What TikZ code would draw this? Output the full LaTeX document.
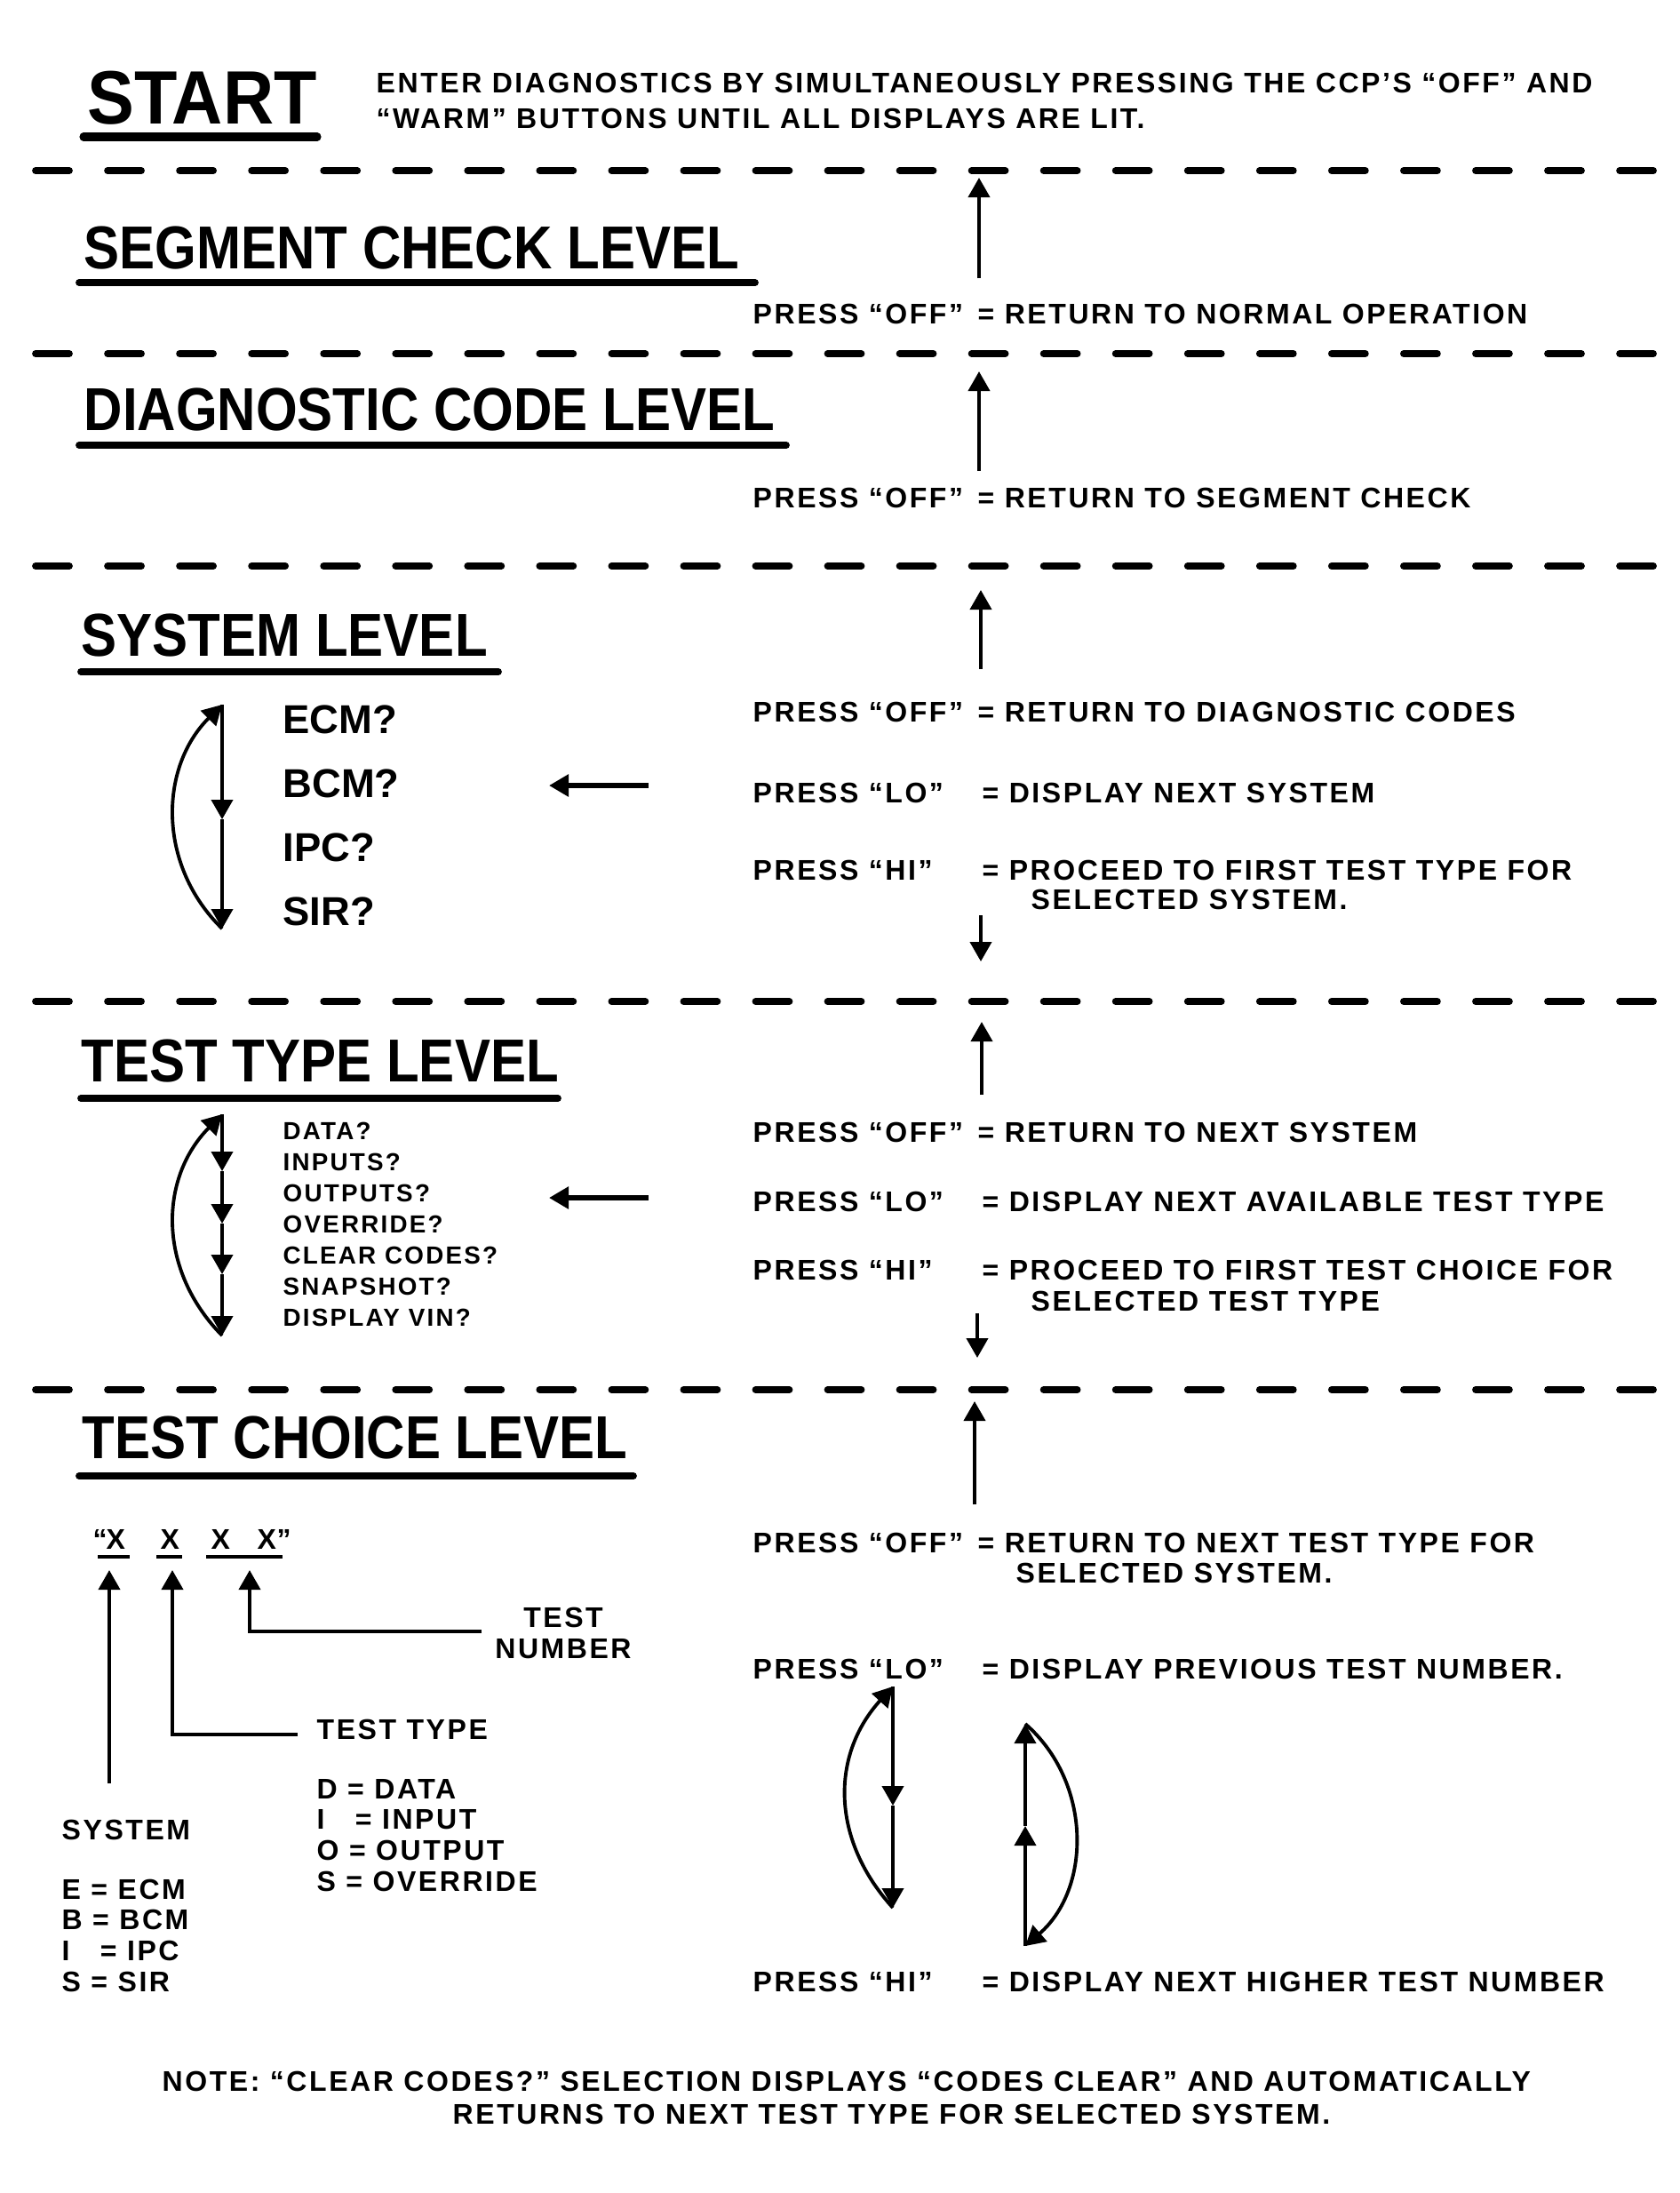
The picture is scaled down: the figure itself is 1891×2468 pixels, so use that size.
\documentclass[tikz,border=0pt]{standalone}
\usepackage{fontspec}
\setmainfont{Liberation Sans}
\newfontfamily\headfont{Liberation Sans Bold}[FakeStretch=0.88]
\newfontfamily\startfont{Liberation Sans Bold}[FakeStretch=0.93]
\newfontfamily\bodyfont{Liberation Sans Bold}[LetterSpace=8]
\newfontfamily\itemfont{Liberation Sans Bold}
\usetikzlibrary{arrows.meta}
\tikzset{
  starttitle/.style={anchor=base west, inner sep=0pt, font=\startfont\fontsize{24.2}{28}\selectfont},
  lvltitle/.style={anchor=base west, inner sep=0pt, font=\headfont\fontsize{19.4}{23}\selectfont},
  presstxt/.style={anchor=base west, inner sep=0pt, font=\bodyfont\fontsize{9.1}{9.7}\selectfont},
  sysitem/.style={anchor=base west, inner sep=0pt, font=\itemfont\fontsize{12.9}{15}\selectfont},
  typeitem/.style={anchor=base west, inner sep=0pt, font=\bodyfont\fontsize{7.9}{9}\selectfont},
  dashline/.style={line width=2.2pt, line cap=round, dash pattern=on 0.38cm off 0.43cm},
  uline/.style={line width=2.2pt, line cap=round},
  xline/.style={line width=1pt},
  arr/.style={line width=1.1pt, ->},
}
\begin{document}
\begin{tikzpicture}[x=0.01cm, y=-0.01cm, >={Triangle[length=2.2mm,width=2.4mm]}]
  \fill[white] (0,0) rectangle (1891,2468);
  \useasboundingbox (0,0) rectangle (1891,2468);

  \node[starttitle] (start) at (98,139) {START};
  \node[presstxt] (intro1) at (423,104) {ENTER DIAGNOSTICS BY SIMULTANEOUSLY PRESSING THE CCP’S “OFF” AND};
  \node[presstxt] (intro2) at (423,144) {“WARM” BUTTONS UNTIL ALL DISPLAYS ARE LIT.};

  \node[lvltitle] (seg) at (94,302) {SEGMENT CHECK LEVEL};
  \node[lvltitle] (diag) at (94,484) {DIAGNOSTIC CODE LEVEL};
  \node[lvltitle] (sys) at (91,738) {SYSTEM LEVEL};
  \node[lvltitle] (ttype) at (91,1217) {TEST TYPE LEVEL};
  \node[lvltitle] (tchoice) at (92,1641) {TEST CHOICE LEVEL};

  \draw[uline, line width=2.6pt] (94,154) -- (357,154);
  \foreach \y/\xa/\xb in {318/89/850, 501/89/885, 756/91/561, 1236/91/628, 1661/89/713}
    \draw[uline] (\xa,\y) -- (\xb,\y);

  \foreach \y in {192, 398, 637, 1127, 1564}
    \draw[dashline] (40,\y) -- (1862,\y);

  \foreach \i/\x/\ya/\yb in {1/1102/313/200, 2/1102/530/418, 3/1104/753/664, 4/1105/1232/1150, 5/1097/1693/1577} {
    \coordinate (up\i) at (\x,\ya);
    \coordinate (upend\i) at (\x,\yb);
    \draw[arr] (up\i) -- (upend\i);
  }

  \node[presstxt] (pr1) at (847,364) {PRESS “OFF”};
  \node[presstxt] (eq1) at (1100,364) {= RETURN TO NORMAL OPERATION};
  \node[presstxt] (pr2) at (847,571) {PRESS “OFF”};
  \node[presstxt] (eq2) at (1100,571) {= RETURN TO SEGMENT CHECK};

  \node[presstxt] (pr3) at (847,812) {PRESS “OFF”};
  \node[presstxt] (eq3) at (1100,812) {= RETURN TO DIAGNOSTIC CODES};
  \node[presstxt] (pr4) at (847,903) {PRESS “LO”};
  \node[presstxt] (eq4) at (1105,903) {= DISPLAY NEXT SYSTEM};
  \node[presstxt] (pr5) at (847,990) {PRESS “HI”};
  \node[presstxt] (eq5) at (1105,990) {= PROCEED TO FIRST TEST TYPE FOR};
  \node[presstxt] (cont5) at (1160,1023) {SELECTED SYSTEM.};

  \foreach \t [count=\n from 0] in {ECM?, BCM?, IPC?, SIR?}
    \node[sysitem] (si\n) at (318,{825+72*\n}) {\t};
  \coordinate (sa) at (250,793);
  \coordinate (sb) at (250,922);
  \coordinate (sc) at (250,1045);
  \draw[arr] (sa) -- (sb);
  \draw[arr] (sb) -- (sc);
  \draw[arr] (sc) .. controls (178,975) and (178,865) .. (sa);
  \coordinate (sysarr) at (730,884);
  \coordinate (sysarrend) at (618,884);
  \draw[arr, line width=1.6pt] (sysarr) -- (sysarrend);
  \coordinate (hi1) at (1104,1030);
  \coordinate (hiend1) at (1104,1082);
  \draw[arr] (hi1) -- (hiend1);

  \node[presstxt] (pr6) at (847,1285) {PRESS “OFF”};
  \node[presstxt] (eq6) at (1100,1285) {= RETURN TO NEXT SYSTEM};
  \node[presstxt] (pr7) at (847,1363) {PRESS “LO”};
  \node[presstxt] (eq7) at (1105,1363) {= DISPLAY NEXT AVAILABLE TEST TYPE};
  \node[presstxt] (pr8) at (847,1440) {PRESS “HI”};
  \node[presstxt] (eq8) at (1105,1440) {= PROCEED TO FIRST TEST CHOICE FOR};
  \node[presstxt] (cont8) at (1160,1475) {SELECTED TEST TYPE};

  \foreach \t [count=\n from 0] in {DATA?, INPUTS?, OUTPUTS?, OVERRIDE?, CLEAR CODES?, SNAPSHOT?, DISPLAY VIN?}
    \node[typeitem] (ti\n) at (318,{1282+35*\n}) {\t};
  \coordinate (ta) at (250,1254);
  \coordinate (tb) at (250,1318);
  \coordinate (tc) at (250,1377);
  \coordinate (td) at (250,1434);
  \coordinate (te) at (250,1503);
  \draw[arr] (ta) -- (tb);
  \draw[arr] (tb) -- (tc);
  \draw[arr] (tc) -- (td);
  \draw[arr] (td) -- (te);
  \draw[arr] (te) .. controls (178,1430) and (178,1327) .. (ta);
  \coordinate (typearr) at (730,1348);
  \coordinate (typearrend) at (618,1348);
  \draw[arr, line width=1.6pt] (typearr) -- (typearrend);
  \coordinate (hi2) at (1100,1478);
  \coordinate (hiend2) at (1100,1528);
  \draw[arr] (hi2) -- (hiend2);

  \node[presstxt] (pr9) at (847,1747) {PRESS “OFF”};
  \node[presstxt] (eq9) at (1100,1747) {= RETURN TO NEXT TEST TYPE FOR};
  \node[presstxt] (cont9) at (1143,1781) {SELECTED SYSTEM.};
  \node[presstxt] (pr10) at (847,1889) {PRESS “LO”};
  \node[presstxt] (eq10) at (1105,1889) {= DISPLAY PREVIOUS TEST NUMBER.};
  \node[presstxt] (pr11) at (847,2241) {PRESS “HI”};
  \node[presstxt] (eq11) at (1105,2241) {= DISPLAY NEXT HIGHER TEST NUMBER};

  \coordinate (la) at (1005,1898);
  \coordinate (lb) at (1005,2032);
  \coordinate (lc) at (1005,2147);
  \draw[arr] (la) -- (lb);
  \draw[arr] (lb) -- (lc);
  \draw[arr] (lc) .. controls (935,2070) and (935,1975) .. (la);
  \coordinate (ra) at (1154,2190);
  \coordinate (rb) at (1154,2055);
  \coordinate (rc) at (1154,1940);
  \draw[arr] (ra) -- (rb);
  \draw[arr] (rb) -- (rc);
  \draw[arr] (rc) .. controls (1229,2005) and (1229,2125) .. (ra);

  \node[presstxt] (oq) at (104,1743) {“};
  \foreach \x [count=\n] in {119, 180, 237, 289}
    \node[presstxt] (x\n) at (\x,1743) {X};
  \node[presstxt] (cq) at (311,1743) {”};
  \draw[xline] (110,1752) -- (146,1752);
  \draw[xline] (176,1752) -- (205,1752);
  \draw[xline] (232,1752) -- (318,1752);

  \coordinate (sysfoot) at (123,2007);
  \coordinate (systip) at (123,1767);
  \draw[arr] (sysfoot) -- (systip);
  \coordinate (ttfoot) at (335,1952);
  \coordinate (tttip) at (194,1767);
  \draw[arr] (ttfoot) -| (tttip);
  \coordinate (tnfoot) at (542,1836);
  \coordinate (tntip) at (281,1767);
  \draw[arr] (tnfoot) -| (tntip);

  \node[presstxt] (ttlabel) at (356,1957) {TEST TYPE};
  \node[presstxt, anchor=center, align=center] (tnlabel) at (634,1838) {TEST\\NUMBER};
  \node[presstxt] (syslabel) at (69,2070) {SYSTEM};
  \foreach \t [count=\n from 0] in {E = ECM, B = BCM, I\ \ \ = IPC, S = SIR}
    \node[presstxt] (sl\n) at (69,{2137+34.7*\n}) {\t};
  \foreach \t [count=\n from 0] in {D = DATA, I\ \ \ = INPUT, O = OUTPUT, S = OVERRIDE}
    \node[presstxt] (tl\n) at (356,{2024+34.7*\n}) {\t};

  \node[presstxt] (note1) at (182,2353) {NOTE: “CLEAR CODES?” SELECTION DISPLAYS “CODES CLEAR” AND AUTOMATICALLY};
  \node[presstxt] (note2) at (509,2390) {RETURNS TO NEXT TEST TYPE FOR SELECTED SYSTEM.};
\end{tikzpicture}
\end{document}
